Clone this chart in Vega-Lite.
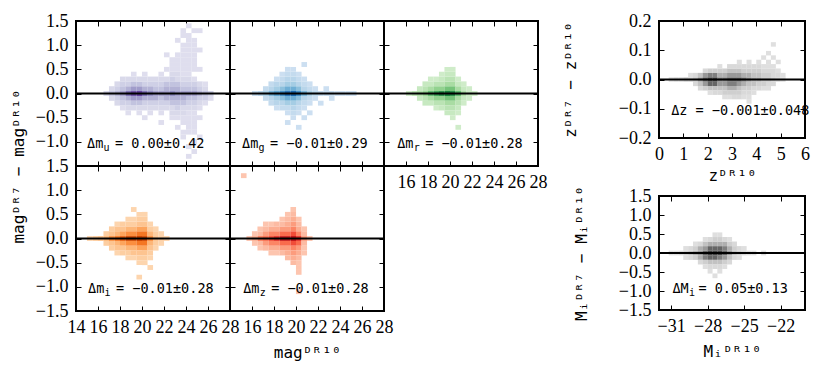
{
"$schema":"https://vega.github.io/schema/vega-lite/v6.json",
"padding":{"left":9,"top":11,"right":5,"bottom":5},
"background":"white",
"datasets":{
"ann":[
{"p":"u","x":15.0,"y":-1.05,"h":"Δm","s":"u","t":"= 0.00±0.42"},
{"p":"g","x":15.1,"y":-1.05,"h":"Δm","s":"g","t":"= −0.01±0.29"},
{"p":"r","x":15.2,"y":-1.05,"h":"Δm","s":"r","t":"= −0.01±0.28"},
{"p":"i","x":15.1,"y":-1.05,"h":"Δm","s":"i","t":"= −0.01±0.28"},
{"p":"z","x":15.2,"y":-1.05,"h":"Δm","s":"z","t":"= −0.01±0.28"},
{"p":"M","x":-30.9,"y":-0.95,"h":"ΔM","s":"i","t":"= 0.05±0.13"},
{"p":"zz","x":0.5,"y":-0.108,"h":"Δz = −0.001±0.048","s":"","t":""}
],
"u":[
{"x":16.75,"y":0,"c":2},{"x":17.25,"y":0,"c":4},{"x":17.75,"y":0,"c":5},{"x":18.25,"y":0,"c":6},{"x":18.75,"y":0,"c":8},{"x":19.25,"y":0,"c":9},{"x":19.75,"y":0,"c":9},{"x":20.25,"y":0,"c":8},{"x":20.75,"y":0,"c":7},{"x":21.25,"y":0,"c":6},{"x":21.75,"y":0,"c":6},{"x":22.25,"y":0,"c":6},{"x":22.75,"y":0,"c":7},{"x":23.25,"y":0,"c":6},{"x":23.75,"y":0,"c":6},{"x":24.25,"y":0,"c":6},{"x":24.75,"y":0,"c":6},{"x":25.25,"y":0,"c":5},{"x":25.75,"y":0,"c":4},{"x":26.25,"y":0,"c":3},
{"x":17.25,"y":0.1,"c":2},{"x":17.75,"y":0.1,"c":3},{"x":18.25,"y":0.1,"c":4},{"x":18.75,"y":0.1,"c":5},{"x":19.25,"y":0.1,"c":6},{"x":19.75,"y":0.1,"c":6},{"x":20.25,"y":0.1,"c":5},{"x":20.75,"y":0.1,"c":5},{"x":21.25,"y":0.1,"c":4},{"x":21.75,"y":0.1,"c":4},{"x":22.25,"y":0.1,"c":5},{"x":22.75,"y":0.1,"c":5},{"x":23.25,"y":0.1,"c":5},{"x":23.75,"y":0.1,"c":4},{"x":24.25,"y":0.1,"c":4},{"x":24.75,"y":0.1,"c":4},{"x":25.25,"y":0.1,"c":3},{"x":25.75,"y":0.1,"c":2},
{"x":17.25,"y":-0.1,"c":2},{"x":17.75,"y":-0.1,"c":3},{"x":18.25,"y":-0.1,"c":4},{"x":18.75,"y":-0.1,"c":5},{"x":19.25,"y":-0.1,"c":6},{"x":19.75,"y":-0.1,"c":6},{"x":20.25,"y":-0.1,"c":5},{"x":20.75,"y":-0.1,"c":5},{"x":21.25,"y":-0.1,"c":5},{"x":21.75,"y":-0.1,"c":4},{"x":22.25,"y":-0.1,"c":5},{"x":22.75,"y":-0.1,"c":5},{"x":23.25,"y":-0.1,"c":5},{"x":23.75,"y":-0.1,"c":5},{"x":24.25,"y":-0.1,"c":4},{"x":24.75,"y":-0.1,"c":4},{"x":25.25,"y":-0.1,"c":3},{"x":25.75,"y":-0.1,"c":3},{"x":26.25,"y":-0.1,"c":1},
{"x":17.75,"y":0.2,"c":2},{"x":18.25,"y":0.2,"c":3},{"x":18.75,"y":0.2,"c":3},{"x":19.25,"y":0.2,"c":4},{"x":19.75,"y":0.2,"c":4},{"x":20.25,"y":0.2,"c":3},{"x":20.75,"y":0.2,"c":3},{"x":21.25,"y":0.2,"c":3},{"x":21.75,"y":0.2,"c":3},{"x":22.25,"y":0.2,"c":4},{"x":22.75,"y":0.2,"c":4},{"x":23.25,"y":0.2,"c":4},{"x":23.75,"y":0.2,"c":3},{"x":24.25,"y":0.2,"c":3},{"x":24.75,"y":0.2,"c":3},{"x":25.25,"y":0.2,"c":2},{"x":25.75,"y":0.2,"c":1},
{"x":17.75,"y":-0.2,"c":2},{"x":18.25,"y":-0.2,"c":3},{"x":18.75,"y":-0.2,"c":3},{"x":19.25,"y":-0.2,"c":4},{"x":19.75,"y":-0.2,"c":4},{"x":20.25,"y":-0.2,"c":3},{"x":20.75,"y":-0.2,"c":3},{"x":21.25,"y":-0.2,"c":3},{"x":21.75,"y":-0.2,"c":3},{"x":22.25,"y":-0.2,"c":3},{"x":22.75,"y":-0.2,"c":4},{"x":23.25,"y":-0.2,"c":4},{"x":23.75,"y":-0.2,"c":4},{"x":24.25,"y":-0.2,"c":3},{"x":24.75,"y":-0.2,"c":3},{"x":25.25,"y":-0.2,"c":2},{"x":25.75,"y":-0.2,"c":1},
{"x":18.25,"y":0.3,"c":2},{"x":18.75,"y":0.3,"c":2},{"x":19.25,"y":0.3,"c":2},{"x":19.75,"y":0.3,"c":2},{"x":20.25,"y":0.3,"c":2},{"x":20.75,"y":0.3,"c":2},{"x":21.25,"y":0.3,"c":2},{"x":21.75,"y":0.3,"c":2},{"x":22.25,"y":0.3,"c":2},{"x":22.75,"y":0.3,"c":3},{"x":23.25,"y":0.3,"c":2},{"x":23.75,"y":0.3,"c":2},{"x":24.25,"y":0.3,"c":2},{"x":24.75,"y":0.3,"c":1},
{"x":18.25,"y":-0.3,"c":1},{"x":18.75,"y":-0.3,"c":2},{"x":19.25,"y":-0.3,"c":2},{"x":19.75,"y":-0.3,"c":2},{"x":20.25,"y":-0.3,"c":2},{"x":20.75,"y":-0.3,"c":2},{"x":21.25,"y":-0.3,"c":2},{"x":21.75,"y":-0.3,"c":2},{"x":22.25,"y":-0.3,"c":2},{"x":22.75,"y":-0.3,"c":2},{"x":23.25,"y":-0.3,"c":3},{"x":23.75,"y":-0.3,"c":2},{"x":24.25,"y":-0.3,"c":2},{"x":24.75,"y":-0.3,"c":2},{"x":25.25,"y":-0.3,"c":1},
{"x":19.25,"y":0.4,"c":1},{"x":20.25,"y":0.4,"c":1},{"x":21.75,"y":0.4,"c":1},{"x":22.75,"y":0.4,"c":2},{"x":23.25,"y":0.4,"c":2},{"x":23.75,"y":0.4,"c":1},{"x":24.25,"y":0.4,"c":1},
{"x":18.75,"y":-0.4,"c":1},{"x":19.75,"y":-0.4,"c":1},{"x":20.75,"y":-0.4,"c":1},{"x":21.75,"y":-0.4,"c":1},{"x":22.75,"y":-0.4,"c":2},{"x":23.25,"y":-0.4,"c":2},{"x":23.75,"y":-0.4,"c":2},{"x":24.25,"y":-0.4,"c":1},{"x":24.75,"y":-0.4,"c":1},
{"x":22.25,"y":0.5,"c":1},{"x":22.75,"y":0.5,"c":1},{"x":23.25,"y":0.5,"c":1},{"x":23.75,"y":0.5,"c":1},{"x":24.25,"y":0.5,"c":1},{"x":24.75,"y":0.5,"c":1},{"x":25.25,"y":0.5,"c":1},
{"x":20.25,"y":-0.5,"c":1},{"x":22.75,"y":-0.5,"c":1},{"x":23.25,"y":-0.5,"c":1},{"x":23.75,"y":-0.5,"c":1},{"x":24.25,"y":-0.5,"c":1},{"x":24.75,"y":-0.5,"c":1},{"x":25.25,"y":-0.5,"c":1},
{"x":22.75,"y":0.6,"c":1},{"x":23.25,"y":0.6,"c":1},{"x":23.75,"y":0.6,"c":1},{"x":24.25,"y":0.6,"c":1},{"x":24.75,"y":0.6,"c":1},
{"x":21.75,"y":-0.6,"c":1},{"x":23.75,"y":-0.6,"c":1},{"x":24.25,"y":-0.6,"c":1},{"x":24.75,"y":-0.6,"c":1},
{"x":22.75,"y":0.7,"c":1},{"x":23.25,"y":0.7,"c":1},{"x":23.75,"y":0.7,"c":1},{"x":24.25,"y":0.7,"c":1},{"x":24.75,"y":0.7,"c":1},
{"x":23.25,"y":-0.7,"c":1},{"x":24.25,"y":-0.7,"c":1},{"x":24.75,"y":-0.7,"c":1},
{"x":22.25,"y":0.8,"c":1},{"x":23.25,"y":0.8,"c":1},{"x":23.75,"y":0.8,"c":1},{"x":24.25,"y":0.8,"c":1},{"x":24.75,"y":0.8,"c":1},
{"x":23.75,"y":-0.8,"c":1},{"x":24.25,"y":-0.8,"c":1},{"x":24.75,"y":-0.8,"c":1},
{"x":23.75,"y":0.9,"c":1},{"x":24.25,"y":0.9,"c":1},{"x":24.75,"y":0.9,"c":1},{"x":25.25,"y":0.9,"c":1},{"x":23.75,"y":-0.9,"c":1},{"x":25.25,"y":-0.9,"c":1},
{"x":23.75,"y":1.0,"c":1},{"x":24.25,"y":1.0,"c":1},{"x":24.75,"y":1.0,"c":1},{"x":24.75,"y":-1.0,"c":1},
{"x":23.25,"y":1.1,"c":1},{"x":24.25,"y":1.1,"c":1},{"x":24.75,"y":1.1,"c":1},{"x":24.25,"y":-1.1,"c":1},
{"x":23.75,"y":1.2,"c":1},{"x":24.25,"y":1.2,"c":1},{"x":24.75,"y":-1.2,"c":1},
{"x":23.75,"y":1.3,"c":1},{"x":24.75,"y":1.3,"c":1},{"x":25.25,"y":1.3,"c":1},{"x":24.25,"y":-1.3,"c":1},{"x":24.25,"y":1.4,"c":1}
],
"g":[
{"x":16.25,"y":0,"c":2},{"x":16.75,"y":0,"c":3},{"x":17.25,"y":0,"c":4},{"x":17.75,"y":0,"c":6},{"x":18.25,"y":0,"c":7},{"x":18.75,"y":0,"c":8},{"x":19.25,"y":0,"c":9},{"x":19.75,"y":0,"c":9},{"x":20.25,"y":0,"c":8},{"x":20.75,"y":0,"c":6},{"x":21.25,"y":0,"c":4},{"x":21.75,"y":0,"c":3},{"x":22.25,"y":0,"c":2},{"x":22.75,"y":0,"c":2},{"x":23.25,"y":0,"c":2},{"x":23.75,"y":0,"c":1},{"x":24.25,"y":0,"c":1},{"x":24.75,"y":0,"c":1},{"x":25.25,"y":0,"c":1},
{"x":17.25,"y":0.1,"c":2},{"x":17.75,"y":0.1,"c":3},{"x":18.25,"y":0.1,"c":4},{"x":18.75,"y":0.1,"c":5},{"x":19.25,"y":0.1,"c":6},{"x":19.75,"y":0.1,"c":6},{"x":20.25,"y":0.1,"c":5},{"x":20.75,"y":0.1,"c":3},{"x":21.25,"y":0.1,"c":2},{"x":21.75,"y":0.1,"c":1},{"x":22.75,"y":0.1,"c":1},
{"x":17.25,"y":-0.1,"c":2},{"x":17.75,"y":-0.1,"c":3},{"x":18.25,"y":-0.1,"c":4},{"x":18.75,"y":-0.1,"c":5},{"x":19.25,"y":-0.1,"c":6},{"x":19.75,"y":-0.1,"c":6},{"x":20.25,"y":-0.1,"c":5},{"x":20.75,"y":-0.1,"c":3},{"x":21.25,"y":-0.1,"c":2},{"x":21.75,"y":-0.1,"c":1},{"x":23.25,"y":-0.1,"c":1},
{"x":17.75,"y":0.2,"c":2},{"x":18.25,"y":0.2,"c":3},{"x":18.75,"y":0.2,"c":3},{"x":19.25,"y":0.2,"c":4},{"x":19.75,"y":0.2,"c":4},{"x":20.25,"y":0.2,"c":3},{"x":20.75,"y":0.2,"c":2},{"x":21.25,"y":0.2,"c":1},
{"x":17.75,"y":-0.2,"c":2},{"x":18.25,"y":-0.2,"c":3},{"x":18.75,"y":-0.2,"c":3},{"x":19.25,"y":-0.2,"c":4},{"x":19.75,"y":-0.2,"c":4},{"x":20.25,"y":-0.2,"c":3},{"x":20.75,"y":-0.2,"c":2},{"x":21.25,"y":-0.2,"c":1},{"x":22.25,"y":-0.2,"c":1},
{"x":18.25,"y":0.3,"c":1},{"x":18.75,"y":0.3,"c":2},{"x":19.25,"y":0.3,"c":3},{"x":19.75,"y":0.3,"c":3},{"x":20.25,"y":0.3,"c":2},{"x":20.75,"y":0.3,"c":1},
{"x":18.25,"y":-0.3,"c":1},{"x":18.75,"y":-0.3,"c":2},{"x":19.25,"y":-0.3,"c":2},{"x":19.75,"y":-0.3,"c":3},{"x":20.25,"y":-0.3,"c":2},{"x":20.75,"y":-0.3,"c":1},
{"x":18.75,"y":0.4,"c":1},{"x":19.25,"y":0.4,"c":2},{"x":19.75,"y":0.4,"c":2},{"x":20.25,"y":0.4,"c":1},
{"x":19.25,"y":-0.4,"c":1},{"x":19.75,"y":-0.4,"c":2},{"x":20.25,"y":-0.4,"c":1},{"x":21.25,"y":-0.4,"c":1},
{"x":19.25,"y":0.5,"c":1},{"x":19.75,"y":0.5,"c":1},{"x":19.75,"y":-0.5,"c":1},{"x":20.75,"y":-0.5,"c":1},
{"x":19.25,"y":-0.6,"c":1},{"x":20.75,"y":0.6,"c":1},{"x":20.25,"y":-0.7,"c":1}
],
"r":[
{"x":16.25,"y":0,"c":1},{"x":16.75,"y":0,"c":3},{"x":17.25,"y":0,"c":4},{"x":17.75,"y":0,"c":5},{"x":18.25,"y":0,"c":7},{"x":18.75,"y":0,"c":8},{"x":19.25,"y":0,"c":9},{"x":19.75,"y":0,"c":9},{"x":20.25,"y":0,"c":9},{"x":20.75,"y":0,"c":7},{"x":21.25,"y":0,"c":4},{"x":21.75,"y":0,"c":2},{"x":22.25,"y":0,"c":1},
{"x":17.25,"y":0.1,"c":2},{"x":17.75,"y":0.1,"c":3},{"x":18.25,"y":0.1,"c":4},{"x":18.75,"y":0.1,"c":5},{"x":19.25,"y":0.1,"c":5},{"x":19.75,"y":0.1,"c":6},{"x":20.25,"y":0.1,"c":6},{"x":20.75,"y":0.1,"c":4},{"x":21.25,"y":0.1,"c":2},{"x":21.75,"y":0.1,"c":1},
{"x":17.25,"y":-0.1,"c":2},{"x":17.75,"y":-0.1,"c":3},{"x":18.25,"y":-0.1,"c":4},{"x":18.75,"y":-0.1,"c":5},{"x":19.25,"y":-0.1,"c":5},{"x":19.75,"y":-0.1,"c":6},{"x":20.25,"y":-0.1,"c":6},{"x":20.75,"y":-0.1,"c":4},{"x":21.25,"y":-0.1,"c":2},{"x":21.75,"y":-0.1,"c":1},
{"x":17.75,"y":0.2,"c":2},{"x":18.25,"y":0.2,"c":2},{"x":18.75,"y":0.2,"c":3},{"x":19.25,"y":0.2,"c":3},{"x":19.75,"y":0.2,"c":4},{"x":20.25,"y":0.2,"c":4},{"x":20.75,"y":0.2,"c":2},{"x":21.25,"y":0.2,"c":1},
{"x":17.75,"y":-0.2,"c":2},{"x":18.25,"y":-0.2,"c":2},{"x":18.75,"y":-0.2,"c":3},{"x":19.25,"y":-0.2,"c":3},{"x":19.75,"y":-0.2,"c":4},{"x":20.25,"y":-0.2,"c":4},{"x":20.75,"y":-0.2,"c":3},{"x":21.25,"y":-0.2,"c":1},
{"x":18.25,"y":0.3,"c":1},{"x":18.75,"y":0.3,"c":1},{"x":19.25,"y":0.3,"c":2},{"x":19.75,"y":0.3,"c":3},{"x":20.25,"y":0.3,"c":3},{"x":20.75,"y":0.3,"c":1},
{"x":18.75,"y":-0.3,"c":1},{"x":19.25,"y":-0.3,"c":2},{"x":19.75,"y":-0.3,"c":3},{"x":20.25,"y":-0.3,"c":3},{"x":20.75,"y":-0.3,"c":2},
{"x":19.25,"y":0.4,"c":1},{"x":19.75,"y":0.4,"c":2},{"x":20.25,"y":0.4,"c":2},
{"x":19.75,"y":-0.4,"c":2},{"x":20.25,"y":-0.4,"c":2},{"x":20.75,"y":-0.4,"c":1},
{"x":19.75,"y":0.5,"c":1},{"x":20.25,"y":0.5,"c":1},{"x":20.25,"y":-0.5,"c":1},{"x":20.75,"y":-0.7,"c":1}
],
"i":[
{"x":15.25,"y":0,"c":1},{"x":15.75,"y":0,"c":2},{"x":16.25,"y":0,"c":3},{"x":16.75,"y":0,"c":4},{"x":17.25,"y":0,"c":6},{"x":17.75,"y":0,"c":7},{"x":18.25,"y":0,"c":8},{"x":18.75,"y":0,"c":9},{"x":19.25,"y":0,"c":9},{"x":19.75,"y":0,"c":9},{"x":20.25,"y":0,"c":9},{"x":20.75,"y":0,"c":6},{"x":21.25,"y":0,"c":3},{"x":21.75,"y":0,"c":2},{"x":22.25,"y":0,"c":1},
{"x":16.75,"y":0.1,"c":2},{"x":17.25,"y":0.1,"c":3},{"x":17.75,"y":0.1,"c":4},{"x":18.25,"y":0.1,"c":5},{"x":18.75,"y":0.1,"c":6},{"x":19.25,"y":0.1,"c":6},{"x":19.75,"y":0.1,"c":7},{"x":20.25,"y":0.1,"c":7},{"x":20.75,"y":0.1,"c":4},{"x":21.25,"y":0.1,"c":2},{"x":21.75,"y":0.1,"c":1},
{"x":16.75,"y":-0.1,"c":2},{"x":17.25,"y":-0.1,"c":3},{"x":17.75,"y":-0.1,"c":4},{"x":18.25,"y":-0.1,"c":5},{"x":18.75,"y":-0.1,"c":6},{"x":19.25,"y":-0.1,"c":6},{"x":19.75,"y":-0.1,"c":7},{"x":20.25,"y":-0.1,"c":7},{"x":20.75,"y":-0.1,"c":4},{"x":21.25,"y":-0.1,"c":2},{"x":21.75,"y":-0.1,"c":1},
{"x":17.25,"y":0.2,"c":2},{"x":17.75,"y":0.2,"c":3},{"x":18.25,"y":0.2,"c":3},{"x":18.75,"y":0.2,"c":4},{"x":19.25,"y":0.2,"c":4},{"x":19.75,"y":0.2,"c":5},{"x":20.25,"y":0.2,"c":5},{"x":20.75,"y":0.2,"c":2},{"x":21.25,"y":0.2,"c":1},
{"x":17.25,"y":-0.2,"c":2},{"x":17.75,"y":-0.2,"c":3},{"x":18.25,"y":-0.2,"c":3},{"x":18.75,"y":-0.2,"c":4},{"x":19.25,"y":-0.2,"c":4},{"x":19.75,"y":-0.2,"c":5},{"x":20.25,"y":-0.2,"c":5},{"x":20.75,"y":-0.2,"c":3},{"x":21.25,"y":-0.2,"c":1},
{"x":17.75,"y":0.3,"c":1},{"x":18.25,"y":0.3,"c":2},{"x":18.75,"y":0.3,"c":2},{"x":19.25,"y":0.3,"c":2},{"x":19.75,"y":0.3,"c":3},{"x":20.25,"y":0.3,"c":3},{"x":20.75,"y":0.3,"c":1},
{"x":17.75,"y":-0.3,"c":1},{"x":18.25,"y":-0.3,"c":2},{"x":18.75,"y":-0.3,"c":2},{"x":19.25,"y":-0.3,"c":3},{"x":19.75,"y":-0.3,"c":3},{"x":20.25,"y":-0.3,"c":3},{"x":20.75,"y":-0.3,"c":2},
{"x":18.75,"y":0.4,"c":1},{"x":19.25,"y":0.4,"c":1},{"x":19.75,"y":0.4,"c":2},{"x":20.25,"y":0.4,"c":2},
{"x":18.75,"y":-0.4,"c":1},{"x":19.25,"y":-0.4,"c":1},{"x":19.75,"y":-0.4,"c":2},{"x":20.25,"y":-0.4,"c":2},{"x":20.75,"y":-0.4,"c":1},
{"x":19.75,"y":0.5,"c":1},{"x":20.25,"y":0.5,"c":1},{"x":19.75,"y":-0.5,"c":1},{"x":20.25,"y":-0.5,"c":1},
{"x":20.75,"y":-0.6,"c":1},{"x":19.25,"y":0.6,"c":1},{"x":19.75,"y":-0.8,"c":1}
],
"z":[
{"x":15.75,"y":0,"c":1},{"x":16.25,"y":0,"c":3},{"x":16.75,"y":0,"c":5},{"x":17.25,"y":0,"c":6},{"x":17.75,"y":0,"c":7},{"x":18.25,"y":0,"c":8},{"x":18.75,"y":0,"c":9},{"x":19.25,"y":0,"c":9},{"x":19.75,"y":0,"c":9},{"x":20.25,"y":0,"c":8},{"x":20.75,"y":0,"c":4},{"x":21.25,"y":0,"c":1},
{"x":16.25,"y":0.1,"c":1},{"x":16.75,"y":0.1,"c":2},{"x":17.25,"y":0.1,"c":4},{"x":17.75,"y":0.1,"c":5},{"x":18.25,"y":0.1,"c":5},{"x":18.75,"y":0.1,"c":6},{"x":19.25,"y":0.1,"c":6},{"x":19.75,"y":0.1,"c":7},{"x":20.25,"y":0.1,"c":5},{"x":20.75,"y":0.1,"c":2},
{"x":16.25,"y":-0.1,"c":1},{"x":16.75,"y":-0.1,"c":2},{"x":17.25,"y":-0.1,"c":4},{"x":17.75,"y":-0.1,"c":5},{"x":18.25,"y":-0.1,"c":5},{"x":18.75,"y":-0.1,"c":6},{"x":19.25,"y":-0.1,"c":6},{"x":19.75,"y":-0.1,"c":7},{"x":20.25,"y":-0.1,"c":6},{"x":20.75,"y":-0.1,"c":2},
{"x":16.75,"y":0.2,"c":1},{"x":17.25,"y":0.2,"c":2},{"x":17.75,"y":0.2,"c":3},{"x":18.25,"y":0.2,"c":3},{"x":18.75,"y":0.2,"c":4},{"x":19.25,"y":0.2,"c":4},{"x":19.75,"y":0.2,"c":5},{"x":20.25,"y":0.2,"c":3},{"x":20.75,"y":0.2,"c":1},
{"x":16.75,"y":-0.2,"c":1},{"x":17.25,"y":-0.2,"c":2},{"x":17.75,"y":-0.2,"c":3},{"x":18.25,"y":-0.2,"c":3},{"x":18.75,"y":-0.2,"c":4},{"x":19.25,"y":-0.2,"c":4},{"x":19.75,"y":-0.2,"c":5},{"x":20.25,"y":-0.2,"c":4},{"x":20.75,"y":-0.2,"c":1},
{"x":17.25,"y":0.3,"c":1},{"x":17.75,"y":0.3,"c":1},{"x":18.25,"y":0.3,"c":2},{"x":18.75,"y":0.3,"c":2},{"x":19.25,"y":0.3,"c":3},{"x":19.75,"y":0.3,"c":4},{"x":20.25,"y":0.3,"c":2},
{"x":17.75,"y":-0.3,"c":1},{"x":18.25,"y":-0.3,"c":1},{"x":18.75,"y":-0.3,"c":2},{"x":19.25,"y":-0.3,"c":3},{"x":19.75,"y":-0.3,"c":4},{"x":20.25,"y":-0.3,"c":3},{"x":20.75,"y":-0.3,"c":1},
{"x":18.75,"y":0.4,"c":1},{"x":19.25,"y":0.4,"c":2},{"x":19.75,"y":0.4,"c":3},{"x":20.25,"y":0.4,"c":1},
{"x":19.25,"y":-0.4,"c":2},{"x":19.75,"y":-0.4,"c":3},{"x":20.25,"y":-0.4,"c":2},
{"x":19.25,"y":0.5,"c":1},{"x":19.75,"y":0.5,"c":2},{"x":19.75,"y":-0.5,"c":2},{"x":20.25,"y":-0.5,"c":1},
{"x":20.25,"y":-0.6,"c":1},{"x":20.25,"y":-0.7,"c":1},{"x":19.75,"y":0.6,"c":1},{"x":20.25,"y":-1.1,"c":1},{"x":15.25,"y":1.3,"c":1}
],
"zz":[
{"x":0.5,"y":0,"c":1},{"x":0.7,"y":0,"c":2},{"x":0.9,"y":0,"c":2},{"x":1.1,"y":0,"c":3},{"x":1.3,"y":0,"c":3},{"x":1.5,"y":0,"c":4},{"x":1.7,"y":0,"c":6},{"x":1.9,"y":0,"c":8},{"x":2.1,"y":0,"c":9},{"x":2.3,"y":0,"c":9},{"x":2.5,"y":0,"c":7},{"x":2.7,"y":0,"c":7},{"x":2.9,"y":0,"c":8},{"x":3.1,"y":0,"c":8},{"x":3.3,"y":0,"c":8},{"x":3.5,"y":0,"c":7},{"x":3.7,"y":0,"c":6},{"x":3.9,"y":0,"c":5},{"x":4.1,"y":0,"c":5},{"x":4.3,"y":0,"c":4},{"x":4.5,"y":0,"c":4},{"x":4.7,"y":0,"c":3},{"x":4.9,"y":0,"c":2},{"x":5.1,"y":0,"c":1},
{"x":1.3,"y":0.015,"c":1},{"x":1.5,"y":0.015,"c":2},{"x":1.7,"y":0.015,"c":4},{"x":1.9,"y":0.015,"c":6},{"x":2.1,"y":0.015,"c":7},{"x":2.3,"y":0.015,"c":7},{"x":2.5,"y":0.015,"c":5},{"x":2.7,"y":0.015,"c":5},{"x":2.9,"y":0.015,"c":6},{"x":3.1,"y":0.015,"c":6},{"x":3.3,"y":0.015,"c":6},{"x":3.5,"y":0.015,"c":5},{"x":3.7,"y":0.015,"c":5},{"x":3.9,"y":0.015,"c":4},{"x":4.1,"y":0.015,"c":4},{"x":4.3,"y":0.015,"c":3},{"x":4.5,"y":0.015,"c":3},{"x":4.7,"y":0.015,"c":2},{"x":4.9,"y":0.015,"c":2},{"x":5.1,"y":0.015,"c":1},
{"x":1.5,"y":-0.015,"c":2},{"x":1.7,"y":-0.015,"c":4},{"x":1.9,"y":-0.015,"c":6},{"x":2.1,"y":-0.015,"c":8},{"x":2.3,"y":-0.015,"c":8},{"x":2.5,"y":-0.015,"c":6},{"x":2.7,"y":-0.015,"c":6},{"x":2.9,"y":-0.015,"c":7},{"x":3.1,"y":-0.015,"c":7},{"x":3.3,"y":-0.015,"c":6},{"x":3.5,"y":-0.015,"c":5},{"x":3.7,"y":-0.015,"c":4},{"x":3.9,"y":-0.015,"c":4},{"x":4.1,"y":-0.015,"c":3},{"x":4.3,"y":-0.015,"c":3},{"x":4.5,"y":-0.015,"c":2},{"x":4.7,"y":-0.015,"c":2},
{"x":1.9,"y":0.03,"c":2},{"x":2.1,"y":0.03,"c":3},{"x":2.3,"y":0.03,"c":3},{"x":2.5,"y":0.03,"c":3},{"x":2.7,"y":0.03,"c":3},{"x":2.9,"y":0.03,"c":4},{"x":3.1,"y":0.03,"c":4},{"x":3.3,"y":0.03,"c":4},{"x":3.5,"y":0.03,"c":3},{"x":3.7,"y":0.03,"c":3},{"x":3.9,"y":0.03,"c":3},{"x":4.1,"y":0.03,"c":3},{"x":4.3,"y":0.03,"c":2},{"x":4.5,"y":0.03,"c":2},{"x":4.7,"y":0.03,"c":2},{"x":4.9,"y":0.03,"c":1},
{"x":1.7,"y":-0.03,"c":2},{"x":1.9,"y":-0.03,"c":3},{"x":2.1,"y":-0.03,"c":4},{"x":2.3,"y":-0.03,"c":4},{"x":2.5,"y":-0.03,"c":4},{"x":2.7,"y":-0.03,"c":4},{"x":2.9,"y":-0.03,"c":5},{"x":3.1,"y":-0.03,"c":5},{"x":3.3,"y":-0.03,"c":4},{"x":3.5,"y":-0.03,"c":3},{"x":3.7,"y":-0.03,"c":3},{"x":3.9,"y":-0.03,"c":2},{"x":4.1,"y":-0.03,"c":2},{"x":4.3,"y":-0.03,"c":1},{"x":4.5,"y":-0.03,"c":1},
{"x":2.5,"y":0.045,"c":1},{"x":2.9,"y":0.045,"c":2},{"x":3.1,"y":0.045,"c":2},{"x":3.3,"y":0.045,"c":2},{"x":3.5,"y":0.045,"c":2},{"x":3.7,"y":0.045,"c":2},{"x":3.9,"y":0.045,"c":2},{"x":4.1,"y":0.045,"c":2},{"x":4.3,"y":0.045,"c":1},{"x":4.5,"y":0.045,"c":1},{"x":4.7,"y":0.045,"c":1},
{"x":2.1,"y":-0.045,"c":1},{"x":2.3,"y":-0.045,"c":2},{"x":2.5,"y":-0.045,"c":2},{"x":2.7,"y":-0.045,"c":3},{"x":2.9,"y":-0.045,"c":3},{"x":3.1,"y":-0.045,"c":3},{"x":3.3,"y":-0.045,"c":3},{"x":3.5,"y":-0.045,"c":2},{"x":3.7,"y":-0.045,"c":2},{"x":3.9,"y":-0.045,"c":1},
{"x":3.3,"y":0.06,"c":1},{"x":3.7,"y":0.06,"c":1},{"x":4.1,"y":0.06,"c":1},{"x":4.5,"y":0.06,"c":1},{"x":4.9,"y":0.06,"c":1},
{"x":2.7,"y":-0.06,"c":1},{"x":2.9,"y":-0.06,"c":1},{"x":3.1,"y":-0.06,"c":2},{"x":3.3,"y":-0.06,"c":2},{"x":3.5,"y":-0.06,"c":1},{"x":3.7,"y":-0.06,"c":1},
{"x":4.3,"y":0.075,"c":1},{"x":4.7,"y":0.075,"c":1},{"x":3.7,"y":-0.075,"c":1},{"x":4.5,"y":0.09,"c":1},{"x":4.7,"y":0.12,"c":1}
],
"M":[
{"x":-31.0,"y":0,"c":1},{"x":-30.6,"y":0,"c":1},{"x":-30.2,"y":0,"c":2},{"x":-29.8,"y":0,"c":3},{"x":-29.4,"y":0,"c":4},{"x":-29.0,"y":0,"c":5},{"x":-28.6,"y":0,"c":6},{"x":-28.2,"y":0,"c":8},{"x":-27.8,"y":0,"c":9},{"x":-27.4,"y":0,"c":9},{"x":-27.0,"y":0,"c":9},{"x":-26.6,"y":0,"c":8},{"x":-26.2,"y":0,"c":6},{"x":-25.8,"y":0,"c":4},{"x":-25.4,"y":0,"c":3},{"x":-25.0,"y":0,"c":2},{"x":-24.6,"y":0,"c":1},{"x":-24.2,"y":0,"c":1},{"x":-23.4,"y":0,"c":1},
{"x":-29.8,"y":0.12,"c":1},{"x":-29.4,"y":0.12,"c":2},{"x":-29.0,"y":0.12,"c":3},{"x":-28.6,"y":0.12,"c":5},{"x":-28.2,"y":0.12,"c":6},{"x":-27.8,"y":0.12,"c":8},{"x":-27.4,"y":0.12,"c":8},{"x":-27.0,"y":0.12,"c":8},{"x":-26.6,"y":0.12,"c":7},{"x":-26.2,"y":0.12,"c":5},{"x":-25.8,"y":0.12,"c":3},{"x":-25.4,"y":0.12,"c":2},{"x":-25.0,"y":0.12,"c":1},
{"x":-29.8,"y":-0.12,"c":1},{"x":-29.4,"y":-0.12,"c":2},{"x":-29.0,"y":-0.12,"c":3},{"x":-28.6,"y":-0.12,"c":5},{"x":-28.2,"y":-0.12,"c":7},{"x":-27.8,"y":-0.12,"c":8},{"x":-27.4,"y":-0.12,"c":8},{"x":-27.0,"y":-0.12,"c":7},{"x":-26.6,"y":-0.12,"c":6},{"x":-26.2,"y":-0.12,"c":4},{"x":-25.8,"y":-0.12,"c":2},{"x":-25.4,"y":-0.12,"c":1},
{"x":-29.0,"y":0.24,"c":1},{"x":-28.6,"y":0.24,"c":2},{"x":-28.2,"y":0.24,"c":4},{"x":-27.8,"y":0.24,"c":5},{"x":-27.4,"y":0.24,"c":5},{"x":-27.0,"y":0.24,"c":5},{"x":-26.6,"y":0.24,"c":5},{"x":-26.2,"y":0.24,"c":3},{"x":-25.8,"y":0.24,"c":2},
{"x":-28.6,"y":-0.24,"c":2},{"x":-28.2,"y":-0.24,"c":3},{"x":-27.8,"y":-0.24,"c":4},{"x":-27.4,"y":-0.24,"c":4},{"x":-27.0,"y":-0.24,"c":4},{"x":-26.6,"y":-0.24,"c":3},{"x":-26.2,"y":-0.24,"c":2},
{"x":-28.2,"y":0.36,"c":1},{"x":-27.8,"y":0.36,"c":2},{"x":-27.4,"y":0.36,"c":3},{"x":-27.0,"y":0.36,"c":3},{"x":-26.6,"y":0.36,"c":2},{"x":-26.2,"y":0.36,"c":1},
{"x":-28.2,"y":-0.36,"c":1},{"x":-27.8,"y":-0.36,"c":2},{"x":-27.4,"y":-0.36,"c":2},{"x":-27.0,"y":-0.36,"c":2},{"x":-26.6,"y":-0.36,"c":1},
{"x":-27.4,"y":0.48,"c":1},{"x":-27.0,"y":0.48,"c":1},{"x":-27.8,"y":-0.48,"c":1},{"x":-27.0,"y":-0.48,"c":1},{"x":-27.4,"y":-0.6,"c":1}
]
},
"hconcat":[
{"concat":[
 {"width":154,"height":145,"resolve":{"axis":{"x":"independent","y":"independent"}},
  "layer":[
   {"data":{"name":"u"},"mark":{"type":"rect","width":5.6,"height":4.9,"clip":true},
    "encoding":{"x":{"field":"x","type":"quantitative","scale":{"domain":[14,28],"nice":false,"zero":false},"axis":{"values":[16,18,20,22,24,26],"labels":false,"title":null}},
     "y":{"field":"y","type":"quantitative","scale":{"domain":[-1.5,1.5],"nice":false,"zero":false},"axis":{"values":[-1,-0.5,0,0.5,1,1.5],"format":".1f","title":"magᴰᴿ⁷ − magᴰᴿ¹⁰","titleX":-50,"titleY":145}},
     "color":{"field":"c","type":"quantitative","scale":{"scheme":"purples","type":"pow","exponent":1.7,"domain":[0,10]},"legend":null}}},
   {"data":{"values":[{"v":0}]},"mark":{"type":"rule","color":"black","strokeWidth":2},"encoding":{"y":{"field":"v","type":"quantitative","axis":null}}},
   {"data":{"values":[{"x":20,"y":0}]},"mark":{"type":"point","opacity":0},"encoding":{"x":{"field":"x","type":"quantitative","axis":{"orient":"top","values":[16,18,20,22,24,26],"labels":false,"title":null}},"y":{"field":"y","type":"quantitative","axis":{"orient":"right","values":[-1,-0.5,0,0.5,1],"labels":false,"title":null}}}},
   {"data":{"name":"ann"},"transform":[{"filter":"datum.p == 'u'"}],"mark":{"type":"text","align":"left","baseline":"middle","font":"DejaVu Sans Mono","fontSize":13.5},"encoding":{"x":{"field":"x","type":"quantitative","axis":null},"y":{"field":"y","type":"quantitative","axis":null},"text":{"field":"h"}}},
   {"data":{"name":"ann"},"transform":[{"filter":"datum.p == 'u'"}],"mark":{"type":"text","align":"left","baseline":"middle","font":"DejaVu Sans Mono","fontSize":10,"dx":16.5,"dy":4},"encoding":{"x":{"field":"x","type":"quantitative","axis":null},"y":{"field":"y","type":"quantitative","axis":null},"text":{"field":"s"}}},
   {"data":{"name":"ann"},"transform":[{"filter":"datum.p == 'u'"}],"mark":{"type":"text","align":"left","baseline":"middle","font":"DejaVu Sans Mono","fontSize":13.5,"dx":28},"encoding":{"x":{"field":"x","type":"quantitative","axis":null},"y":{"field":"y","type":"quantitative","axis":null},"text":{"field":"t"}}}
  ]},
 {"width":154,"height":145,"resolve":{"axis":{"x":"independent","y":"independent"}},
  "layer":[
   {"data":{"name":"g"},"mark":{"type":"rect","width":5.6,"height":4.9,"clip":true},
    "encoding":{"x":{"field":"x","type":"quantitative","scale":{"domain":[14,28],"nice":false,"zero":false},"axis":{"values":[16,18,20,22,24,26],"labels":false,"title":null}},
     "y":{"field":"y","type":"quantitative","scale":{"domain":[-1.5,1.5],"nice":false,"zero":false},"axis":{"values":[-1,-0.5,0,0.5,1],"labels":false,"title":null}},
     "color":{"field":"c","type":"quantitative","scale":{"scheme":"blues","type":"pow","exponent":1.7,"domain":[0,10]},"legend":null}}},
   {"data":{"values":[{"v":0}]},"mark":{"type":"rule","color":"black","strokeWidth":2},"encoding":{"y":{"field":"v","type":"quantitative","axis":null}}},
   {"data":{"values":[{"x":20,"y":0}]},"mark":{"type":"point","opacity":0},"encoding":{"x":{"field":"x","type":"quantitative","axis":{"orient":"top","values":[16,18,20,22,24,26],"labels":false,"title":null}},"y":{"field":"y","type":"quantitative","axis":{"orient":"right","values":[-1,-0.5,0,0.5,1],"labels":false,"title":null}}}},
   {"data":{"name":"ann"},"transform":[{"filter":"datum.p == 'g'"}],"mark":{"type":"text","align":"left","baseline":"middle","font":"DejaVu Sans Mono","fontSize":13.5},"encoding":{"x":{"field":"x","type":"quantitative","axis":null},"y":{"field":"y","type":"quantitative","axis":null},"text":{"field":"h"}}},
   {"data":{"name":"ann"},"transform":[{"filter":"datum.p == 'g'"}],"mark":{"type":"text","align":"left","baseline":"middle","font":"DejaVu Sans Mono","fontSize":10,"dx":16.5,"dy":4},"encoding":{"x":{"field":"x","type":"quantitative","axis":null},"y":{"field":"y","type":"quantitative","axis":null},"text":{"field":"s"}}},
   {"data":{"name":"ann"},"transform":[{"filter":"datum.p == 'g'"}],"mark":{"type":"text","align":"left","baseline":"middle","font":"DejaVu Sans Mono","fontSize":13.5,"dx":28},"encoding":{"x":{"field":"x","type":"quantitative","axis":null},"y":{"field":"y","type":"quantitative","axis":null},"text":{"field":"t"}}}
  ]},
 {"width":154,"height":145,"resolve":{"axis":{"x":"independent","y":"independent"}},
  "layer":[
   {"data":{"name":"r"},"mark":{"type":"rect","width":5.6,"height":4.9,"clip":true},
    "encoding":{"x":{"field":"x","type":"quantitative","scale":{"domain":[14,28],"nice":false,"zero":false},"axis":{"values":[16,18,20,22,24,26,28],"format":"d","title":null}},
     "y":{"field":"y","type":"quantitative","scale":{"domain":[-1.5,1.5],"nice":false,"zero":false},"axis":{"values":[-1,-0.5,0,0.5,1],"labels":false,"title":null}},
     "color":{"field":"c","type":"quantitative","scale":{"scheme":"greens","type":"pow","exponent":1.7,"domain":[0,10]},"legend":null}}},
   {"data":{"values":[{"v":0}]},"mark":{"type":"rule","color":"black","strokeWidth":2},"encoding":{"y":{"field":"v","type":"quantitative","axis":null}}},
   {"data":{"values":[{"x":20,"y":0}]},"mark":{"type":"point","opacity":0},"encoding":{"x":{"field":"x","type":"quantitative","axis":{"orient":"top","values":[16,18,20,22,24,26],"labels":false,"title":null}},"y":{"field":"y","type":"quantitative","axis":{"orient":"right","values":[-1,-0.5,0,0.5,1],"labels":false,"title":null}}}},
   {"data":{"name":"ann"},"transform":[{"filter":"datum.p == 'r'"}],"mark":{"type":"text","align":"left","baseline":"middle","font":"DejaVu Sans Mono","fontSize":13.5},"encoding":{"x":{"field":"x","type":"quantitative","axis":null},"y":{"field":"y","type":"quantitative","axis":null},"text":{"field":"h"}}},
   {"data":{"name":"ann"},"transform":[{"filter":"datum.p == 'r'"}],"mark":{"type":"text","align":"left","baseline":"middle","font":"DejaVu Sans Mono","fontSize":10,"dx":16.5,"dy":4},"encoding":{"x":{"field":"x","type":"quantitative","axis":null},"y":{"field":"y","type":"quantitative","axis":null},"text":{"field":"s"}}},
   {"data":{"name":"ann"},"transform":[{"filter":"datum.p == 'r'"}],"mark":{"type":"text","align":"left","baseline":"middle","font":"DejaVu Sans Mono","fontSize":13.5,"dx":28},"encoding":{"x":{"field":"x","type":"quantitative","axis":null},"y":{"field":"y","type":"quantitative","axis":null},"text":{"field":"t"}}}
  ]},
 {"width":154,"height":145,"resolve":{"axis":{"x":"independent","y":"independent"}},
  "layer":[
   {"data":{"name":"i"},"mark":{"type":"rect","width":5.6,"height":4.9,"clip":true},
    "encoding":{"x":{"field":"x","type":"quantitative","scale":{"domain":[14,28],"nice":false,"zero":false},"axis":{"values":[14,16,18,20,22,24,26,28],"format":"d","title":null}},
     "y":{"field":"y","type":"quantitative","scale":{"domain":[-1.5,1.5],"nice":false,"zero":false},"axis":{"values":[-1.5,-1,-0.5,0,0.5,1,1.5],"format":".1f","title":null}},
     "color":{"field":"c","type":"quantitative","scale":{"scheme":"oranges","type":"pow","exponent":1.7,"domain":[0,10]},"legend":null}}},
   {"data":{"values":[{"v":0}]},"mark":{"type":"rule","color":"black","strokeWidth":2},"encoding":{"y":{"field":"v","type":"quantitative","axis":null}}},
   {"data":{"values":[{"x":20,"y":0}]},"mark":{"type":"point","opacity":0},"encoding":{"x":{"field":"x","type":"quantitative","axis":{"orient":"top","values":[16,18,20,22,24,26],"labels":false,"title":null}},"y":{"field":"y","type":"quantitative","axis":{"orient":"right","values":[-1,-0.5,0,0.5,1],"labels":false,"title":null}}}},
   {"data":{"name":"ann"},"transform":[{"filter":"datum.p == 'i'"}],"mark":{"type":"text","align":"left","baseline":"middle","font":"DejaVu Sans Mono","fontSize":13.5},"encoding":{"x":{"field":"x","type":"quantitative","axis":null},"y":{"field":"y","type":"quantitative","axis":null},"text":{"field":"h"}}},
   {"data":{"name":"ann"},"transform":[{"filter":"datum.p == 'i'"}],"mark":{"type":"text","align":"left","baseline":"middle","font":"DejaVu Sans Mono","fontSize":10,"dx":16.5,"dy":4},"encoding":{"x":{"field":"x","type":"quantitative","axis":null},"y":{"field":"y","type":"quantitative","axis":null},"text":{"field":"s"}}},
   {"data":{"name":"ann"},"transform":[{"filter":"datum.p == 'i'"}],"mark":{"type":"text","align":"left","baseline":"middle","font":"DejaVu Sans Mono","fontSize":13.5,"dx":28},"encoding":{"x":{"field":"x","type":"quantitative","axis":null},"y":{"field":"y","type":"quantitative","axis":null},"text":{"field":"t"}}}
  ]},
 {"width":154,"height":145,"resolve":{"axis":{"x":"independent","y":"independent"}},
  "layer":[
   {"data":{"name":"z"},"mark":{"type":"rect","width":5.6,"height":4.9,"clip":true},
    "encoding":{"x":{"field":"x","type":"quantitative","scale":{"domain":[14,28],"nice":false,"zero":false},"axis":{"values":[16,18,20,22,24,26,28],"format":"d","title":"magᴰᴿ¹⁰"}},
     "y":{"field":"y","type":"quantitative","scale":{"domain":[-1.5,1.5],"nice":false,"zero":false},"axis":{"values":[-1,-0.5,0,0.5,1],"labels":false,"title":null}},
     "color":{"field":"c","type":"quantitative","scale":{"scheme":"reds","type":"pow","exponent":1.7,"domain":[0,10]},"legend":null}}},
   {"data":{"values":[{"v":0}]},"mark":{"type":"rule","color":"black","strokeWidth":2},"encoding":{"y":{"field":"v","type":"quantitative","axis":null}}},
   {"data":{"values":[{"x":20,"y":0}]},"mark":{"type":"point","opacity":0},"encoding":{"x":{"field":"x","type":"quantitative","axis":{"orient":"top","values":[16,18,20,22,24,26],"labels":false,"title":null}},"y":{"field":"y","type":"quantitative","axis":{"orient":"right","values":[-1,-0.5,0,0.5,1],"labels":false,"title":null}}}},
   {"data":{"name":"ann"},"transform":[{"filter":"datum.p == 'z'"}],"mark":{"type":"text","align":"left","baseline":"middle","font":"DejaVu Sans Mono","fontSize":13.5},"encoding":{"x":{"field":"x","type":"quantitative","axis":null},"y":{"field":"y","type":"quantitative","axis":null},"text":{"field":"h"}}},
   {"data":{"name":"ann"},"transform":[{"filter":"datum.p == 'z'"}],"mark":{"type":"text","align":"left","baseline":"middle","font":"DejaVu Sans Mono","fontSize":10,"dx":16.5,"dy":4},"encoding":{"x":{"field":"x","type":"quantitative","axis":null},"y":{"field":"y","type":"quantitative","axis":null},"text":{"field":"s"}}},
   {"data":{"name":"ann"},"transform":[{"filter":"datum.p == 'z'"}],"mark":{"type":"text","align":"left","baseline":"middle","font":"DejaVu Sans Mono","fontSize":13.5,"dx":28},"encoding":{"x":{"field":"x","type":"quantitative","axis":null},"y":{"field":"y","type":"quantitative","axis":null},"text":{"field":"t"}}}
  ]}
 ],"columns":3,"spacing":0,"bounds":"flush","resolve":{"scale":{"color":"independent"}}},
{"vconcat":[
 {"width":146,"height":117,"resolve":{"axis":{"x":"independent","y":"independent"}},
  "layer":[
   {"data":{"name":"zz"},"mark":{"type":"rect","width":5.0,"height":4.5,"clip":true},
    "encoding":{"x":{"field":"x","type":"quantitative","scale":{"domain":[0,6],"nice":false,"zero":false},"axis":{"values":[0,1,2,3,4,5,6],"format":"d","title":"zᴰᴿ¹⁰","titlePadding":4}},
     "y":{"field":"y","type":"quantitative","scale":{"domain":[-0.2,0.2],"nice":false,"zero":false},"axis":{"values":[-0.2,-0.1,0,0.1,0.2],"format":".1f","title":"zᴰᴿ⁷ − zᴰᴿ¹⁰","titleX":-81,"titleY":58.5}},
     "color":{"field":"c","type":"quantitative","scale":{"scheme":"greys","type":"pow","exponent":1.7,"domain":[0,10]},"legend":null}}},
   {"data":{"values":[{"v":0}]},"mark":{"type":"rule","color":"black","strokeWidth":2},"encoding":{"y":{"field":"v","type":"quantitative","axis":null}}},
   {"data":{"values":[{"x":3,"y":0}]},"mark":{"type":"point","opacity":0},"encoding":{"x":{"field":"x","type":"quantitative","axis":{"orient":"top","values":[1,2,3,4,5],"labels":false,"title":null}},"y":{"field":"y","type":"quantitative","axis":{"orient":"right","values":[-0.1,0,0.1],"labels":false,"title":null}}}},
   {"data":{"name":"ann"},"transform":[{"filter":"datum.p == 'zz'"}],"mark":{"type":"text","align":"left","baseline":"middle","font":"DejaVu Sans Mono","fontSize":13.5},"encoding":{"x":{"field":"x","type":"quantitative","axis":null},"y":{"field":"y","type":"quantitative","axis":null},"text":{"field":"h"}}}
  ]},
 {"width":146,"height":114,"resolve":{"axis":{"x":"independent","y":"independent"}},
  "layer":[
   {"data":{"name":"M"},"mark":{"type":"rect","width":5.0,"height":4.7,"clip":true},
    "encoding":{"x":{"field":"x","type":"quantitative","scale":{"domain":[-32,-20],"nice":false,"zero":false},"axis":{"values":[-31,-28,-25,-22],"format":"d","title":"Mᵢᴰᴿ¹⁰"}},
     "y":{"field":"y","type":"quantitative","scale":{"domain":[-1.5,1.5],"nice":false,"zero":false},"axis":{"values":[-1.5,-1,-0.5,0,0.5,1,1.5],"format":".1f","title":"Mᵢᴰᴿ⁷ − Mᵢᴰᴿ¹⁰","titleX":-70,"titleY":57}},
     "color":{"field":"c","type":"quantitative","scale":{"scheme":"greys","type":"pow","exponent":1.7,"domain":[0,10]},"legend":null}}},
   {"data":{"values":[{"v":0}]},"mark":{"type":"rule","color":"black","strokeWidth":2},"encoding":{"y":{"field":"v","type":"quantitative","axis":null}}},
   {"data":{"values":[{"x":-27,"y":0}]},"mark":{"type":"point","opacity":0},"encoding":{"x":{"field":"x","type":"quantitative","axis":{"orient":"top","values":[-31,-28,-25,-22],"labels":false,"title":null}},"y":{"field":"y","type":"quantitative","axis":{"orient":"right","values":[-1,-0.5,0,0.5,1],"labels":false,"title":null}}}},
   {"data":{"name":"ann"},"transform":[{"filter":"datum.p == 'M'"}],"mark":{"type":"text","align":"left","baseline":"middle","font":"DejaVu Sans Mono","fontSize":13.5},"encoding":{"x":{"field":"x","type":"quantitative","axis":null},"y":{"field":"y","type":"quantitative","axis":null},"text":{"field":"h"}}},
   {"data":{"name":"ann"},"transform":[{"filter":"datum.p == 'M'"}],"mark":{"type":"text","align":"left","baseline":"middle","font":"DejaVu Sans Mono","fontSize":10,"dx":16.5,"dy":4},"encoding":{"x":{"field":"x","type":"quantitative","axis":null},"y":{"field":"y","type":"quantitative","axis":null},"text":{"field":"s"}}},
   {"data":{"name":"ann"},"transform":[{"filter":"datum.p == 'M'"}],"mark":{"type":"text","align":"left","baseline":"middle","font":"DejaVu Sans Mono","fontSize":13.5,"dx":26},"encoding":{"x":{"field":"x","type":"quantitative","axis":null},"y":{"field":"y","type":"quantitative","axis":null},"text":{"field":"t"}}}
  ]}
 ],"spacing":58,"bounds":"flush","resolve":{"scale":{"color":"independent"}}}
],
"spacing":13,
"bounds":"full",
"resolve":{"scale":{"color":"independent"}},
"config":{
 "view":{"stroke":"black","strokeWidth":2},
 "axis":{"domain":false,"grid":false,"ticks":true,"tickSize":-5,"tickColor":"black","tickWidth":1,"labelFont":"Liberation Serif","labelFontSize":18,"labelColor":"black","labelFlush":false,"labelOverlap":false,"titleFont":"DejaVu Sans Mono","titleFontSize":16,"titleFontWeight":"normal","titleColor":"black","titlePadding":8},
 "axisX":{"labelPadding":12},
 "axisY":{"labelPadding":13}
}
}
